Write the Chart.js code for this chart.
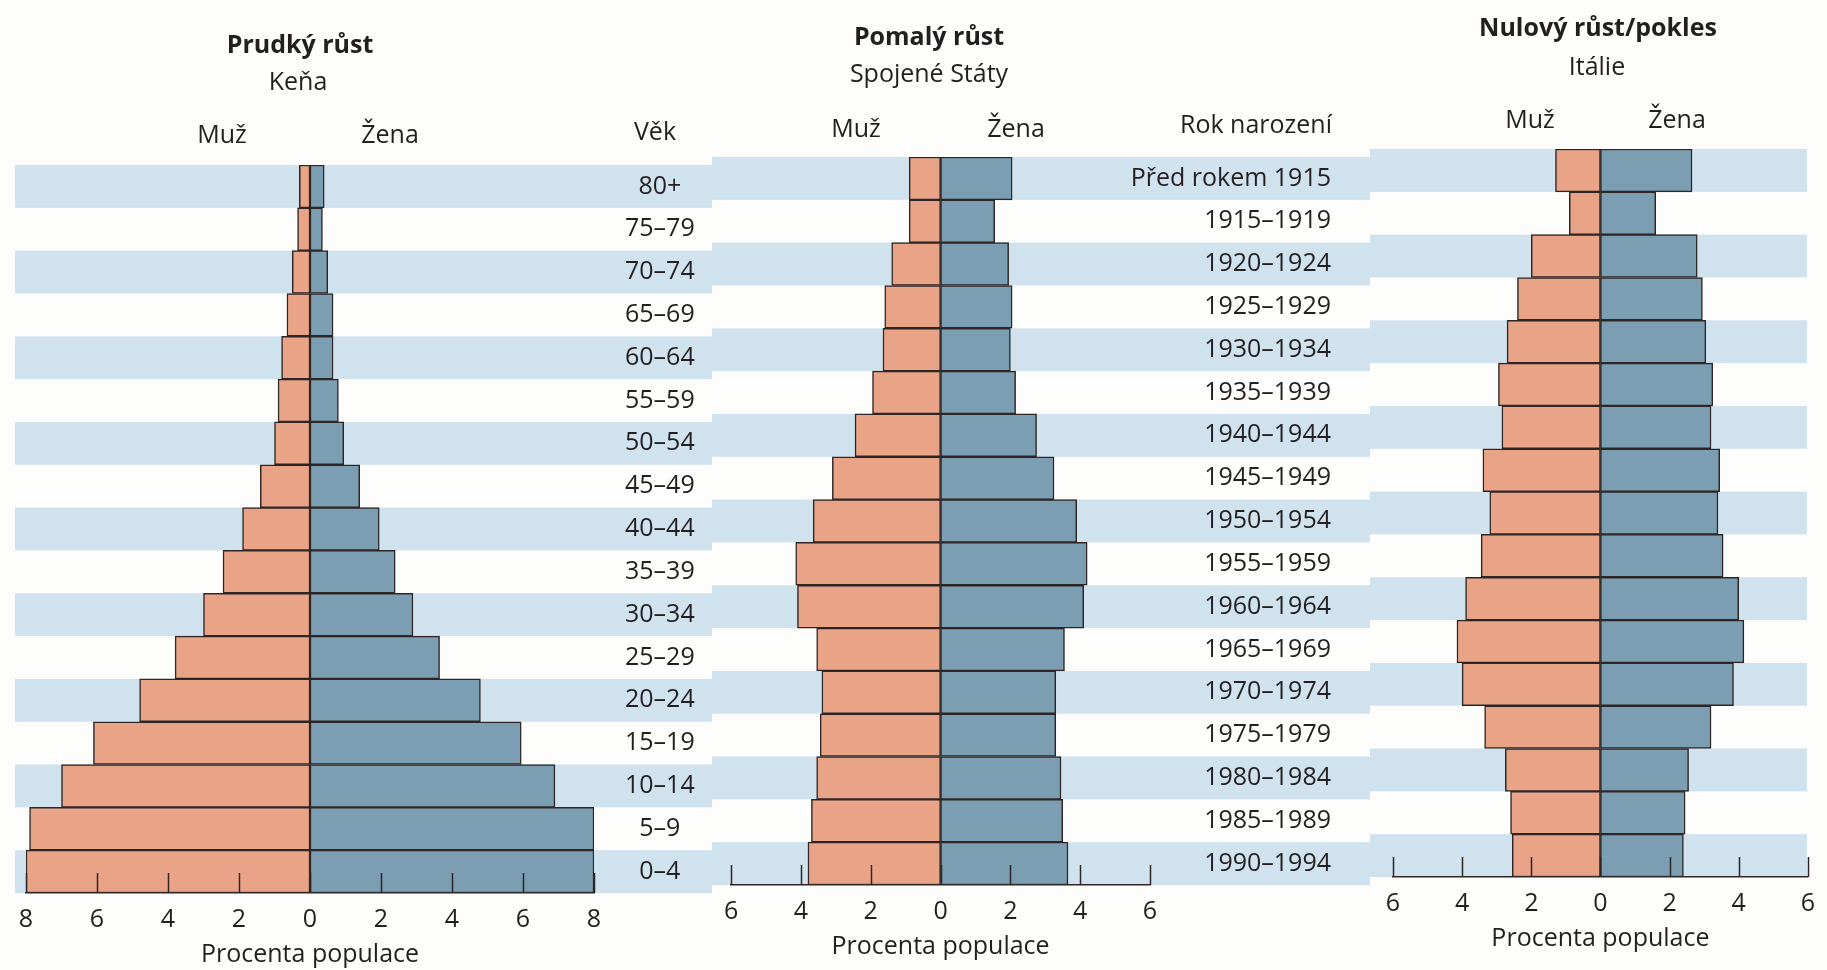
<!DOCTYPE html>
<html lang="cs">
<head>
<meta charset="utf-8">
<title>Věkové pyramidy</title>
<script src="https://cdn.jsdelivr.net/npm/chart.js@4.4.1/dist/chart.umd.min.js"></script>
<style>
  html, body { margin: 0; padding: 0; background: #fdfdfc; }
  body { width: 1827px; height: 970px; position: relative; overflow: hidden;
         font-family: "Open Sans", sans-serif; color: #231f20; }
  canvas { position: absolute; }
  .txt { position: absolute; transform: translate(-50%, -50%); white-space: nowrap;
         font-size: 25px; line-height: 1; }
  .b { font-weight: 700; }
</style>
</head>
<body>
<canvas id="kena" width="712" height="970" style="left:0px;top:0px"></canvas>
<canvas id="usa" width="658" height="970" style="left:712px;top:-8px"></canvas>
<canvas id="italie" width="457" height="970" style="left:1370px;top:-16px"></canvas>

<!-- nadpisy -->
<div class="txt b" style="left:300px;top:43px">Prudký růst</div>
<div class="txt" style="left:298px;top:80px">Keňa</div>
<div class="txt" style="left:222px;top:133px">Muž</div>
<div class="txt" style="left:390px;top:133px">Žena</div>
<div class="txt" style="left:655px;top:130px">Věk</div>

<div class="txt b" style="left:929px;top:35px">Pomalý růst</div>
<div class="txt" style="left:929px;top:72px">Spojené Státy</div>
<div class="txt" style="left:856px;top:127px">Muž</div>
<div class="txt" style="left:1016px;top:127px">Žena</div>
<div class="txt" style="left:1256px;top:123px">Rok narození</div>

<div class="txt b" style="left:1598px;top:26px">Nulový růst/pokles</div>
<div class="txt" style="left:1597px;top:65px">Itálie</div>
<div class="txt" style="left:1530px;top:118px">Muž</div>
<div class="txt" style="left:1677px;top:118px">Žena</div>

<script>
// věkové skupiny (shora dolů)
const vekoveSkupiny = ['80+', '75–79', '70–74', '65–69', '60–64', '55–59', '50–54', '45–49', '40–44',
    '35–39', '30–34', '25–29', '20–24', '15–19', '10–14', '5–9', '0–4'];
// rok narození pro USA a Itálii
const rokyNarozeni = ['Před rokem 1915', '1915–1919', '1920–1924', '1925–1929', '1930–1934', '1935–1939',
    '1940–1944', '1945–1949', '1950–1954', '1955–1959', '1960–1964', '1965–1969', '1970–1974',
    '1975–1979', '1980–1984', '1985–1989', '1990–1994'];

// procenta populace
const kenaMuzi = [0.3, 0.35, 0.5, 0.65, 0.8, 0.9, 1.0, 1.4, 1.9, 2.45, 3.0, 3.8, 4.8, 6.1, 7.0, 7.9, 8.0];
const kenaZeny = [0.4, 0.35, 0.5, 0.65, 0.65, 0.8, 0.95, 1.4, 1.95, 2.4, 2.9, 3.65, 4.8, 5.95, 6.9, 8.0, 8.0];
const usaMuzi = [0.9, 0.9, 1.4, 1.6, 1.65, 1.95, 2.45, 3.1, 3.65, 4.15, 4.1, 3.55, 3.4, 3.45, 3.55, 3.7, 3.8];
const usaZeny = [2.05, 1.55, 1.95, 2.05, 2.0, 2.15, 2.75, 3.25, 3.9, 4.2, 4.1, 3.55, 3.3, 3.3, 3.45, 3.5, 3.65];
const italieMuzi = [1.3, 0.9, 2.0, 2.4, 2.7, 2.95, 2.85, 3.4, 3.2, 3.45, 3.9, 4.15, 4.0, 3.35, 2.75, 2.6, 2.55];
const italieZeny = [2.65, 1.6, 2.8, 2.95, 3.05, 3.25, 3.2, 3.45, 3.4, 3.55, 4.0, 4.15, 3.85, 3.2, 2.55, 2.45, 2.4];

// rozsah osy x (procenta)
const rozsahKena = 8;
const rozsahOstatni = 6;

const BARVA_MUZ = '#e9a487';
const BARVA_ZENA = '#7b9eb3';
const BARVA_PRUH = '#cfe2ee';
const BARVA_TEXT = '#231f20';
const BARVA_CARA = '#2e2624';
const PISMO = '"Open Sans", sans-serif';

Chart.defaults.font.family = PISMO;
Chart.defaults.color = BARVA_TEXT;

// světle modré pruhy za každým druhým řádkem
const pruhy = {
    id: 'pruhy',
    beforeDraw(chart, args, opts) {
        const y = chart.scales.y;
        const ctx = chart.ctx;
        const krok = Math.abs(y.getPixelForValue(1) - y.getPixelForValue(0));
        ctx.save();
        ctx.fillStyle = BARVA_PRUH;
        for (let i = 0; i < chart.data.labels.length; i += 2) {
            const stred = y.getPixelForValue(i);
            ctx.fillRect(opts.od, stred - krok / 2, opts.do - opts.od, krok);
        }
        ctx.restore();
    }
};

// čárky na ose x směřují nahoru
const carky = {
    id: 'carky',
    afterDatasetsDraw(chart, args, opts) {
        const x = chart.scales.x;
        const ctx = chart.ctx;
        const dno = chart.chartArea.bottom;
        ctx.save();
        ctx.strokeStyle = BARVA_CARA;
        ctx.lineWidth = 1.5;
        x.ticks.forEach(function (t) {
            const px = Math.round(x.getPixelForValue(t.value)) + 0.5;
            ctx.beginPath();
            ctx.moveTo(px, dno);
            ctx.lineTo(px, dno - opts.delka);
            ctx.stroke();
        });
        ctx.restore();
    }
};

// rok narození vpravo od pyramidy (zarovnáno doprava, řádky podle osy y)
const roky = {
    id: 'roky',
    afterDatasetsDraw(chart, args, opts) {
        if (!opts.popisky) return;
        const y = chart.scales.y;
        const ctx = chart.ctx;
        ctx.save();
        ctx.font = '25px ' + PISMO;
        ctx.fillStyle = BARVA_TEXT;
        ctx.textAlign = 'right';
        ctx.textBaseline = 'middle';
        opts.popisky.forEach(function (text, i) {
            ctx.fillText(text, chart.chartArea.right + opts.odstup, y.getPixelForValue(i));
        });
        ctx.restore();
    }
};

function pyramida(id, muzi, zeny, rozsah, nast) {
    return new Chart(document.getElementById(id), {
        type: 'bar',
        data: {
            labels: vekoveSkupiny,
            datasets: [{
                label: 'Muž',
                data: muzi.map(function (v) { return -v; }),
                backgroundColor: BARVA_MUZ,
                borderColor: BARVA_CARA,
                borderWidth: 1.5,
                borderSkipped: false
            }, {
                label: 'Žena',
                data: zeny,
                backgroundColor: BARVA_ZENA,
                borderColor: BARVA_CARA,
                borderWidth: 1.5,
                borderSkipped: false
            }]
        },
        options: {
            indexAxis: 'y',
            responsive: false,
            animation: false,
            devicePixelRatio: 1,
            categoryPercentage: 1,
            barPercentage: 1,
            layout: { padding: { top: 165, left: nast.vlevo, right: nast.vpravo, bottom: 0 } },
            plugins: {
                legend: { display: false },
                tooltip: { enabled: false },
                pruhy: { od: nast.pruhOd, do: nast.pruhDo },
                carky: { delka: 20 },
                roky: { popisky: nast.roky || null, odstup: 181 }
            },
            scales: {
                x: {
                    stacked: true,
                    min: -rozsah,
                    max: rozsah,
                    grid: { display: false, drawTicks: false },
                    border: { display: true, color: BARVA_CARA, width: 1.5 },
                    ticks: {
                        stepSize: 2,
                        autoSkip: false,
                        maxRotation: 0,
                        padding: 12,
                        font: { size: 25 },
                        color: BARVA_TEXT,
                        callback: function (v) { return Math.abs(v); }
                    },
                    title: {
                        display: true,
                        text: 'Procenta populace',
                        font: { size: 25 },
                        color: BARVA_TEXT,
                        padding: 0
                    },
                    afterFit: function (s) { s.height = 77; }
                },
                y: {
                    stacked: true,
                    display: nast.vek === true,
                    position: 'right',
                    grid: { display: false, drawTicks: false },
                    border: { display: false },
                    ticks: {
                        autoSkip: false,
                        crossAlign: 'center',
                        padding: 31,
                        font: { size: 25 },
                        color: BARVA_TEXT
                    },
                    afterFit: function (s) { s.width = nast.vek ? 118 : 0; }
                }
            }
        },
        plugins: [pruhy, carky, roky]
    });
}

pyramida('kena', kenaMuzi, kenaZeny, rozsahKena, {
    vlevo: 26, vpravo: 0, pruhOd: 15, pruhDo: 712, vek: true
});
pyramida('usa', usaMuzi, usaZeny, rozsahOstatni, {
    vlevo: 12, vpravo: 220, pruhOd: 0, pruhDo: 658, roky: rokyNarozeni
});
pyramida('italie', italieMuzi, italieZeny, rozsahOstatni, {
    vlevo: 23, vpravo: 10, pruhOd: 0, pruhDo: 437
});
</script>
</body>
</html>
